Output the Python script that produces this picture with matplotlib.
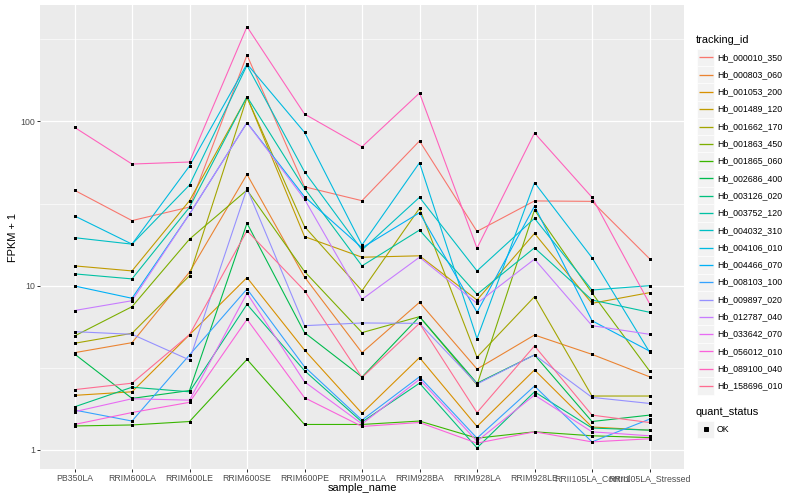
import matplotlib
matplotlib.use("Agg")
import matplotlib.pyplot as plt
from matplotlib.patches import Rectangle
from matplotlib.ticker import FixedLocator, NullFormatter

plt.rcParams['font.family'] = ['Liberation Sans', 'DejaVu Sans']

samples = ["PB350LA", "RRIM600LA", "RRIM600LE", "RRIM600SE", "RRIM600PE", "RRIM901LA",
           "RRIM928BA", "RRIM928LA", "RRIM928LE", "RRII105LA_Control", "RRII105LA_Stressed"]

tracking_ids = ["Hb_000010_350", "Hb_000803_060", "Hb_001053_200", "Hb_001489_120",
                "Hb_001662_170", "Hb_001863_450", "Hb_001865_060", "Hb_002686_400",
                "Hb_003126_020", "Hb_003752_120", "Hb_004032_310", "Hb_004106_010",
                "Hb_004466_070", "Hb_008103_100", "Hb_009897_020", "Hb_012787_040",
                "Hb_033642_070", "Hb_056012_010", "Hb_089100_040", "Hb_158696_010"]

# ggplot default hue palette, 20 levels
colors = ["#F8766D", "#EA8331", "#D89000", "#C09B00", "#A3A500", "#7CAE00", "#39B600",
          "#00BB4E", "#00BF7D", "#00C1A3", "#00BFC4", "#00BAE0", "#00B0F6", "#35A2FF",
          "#9590FF", "#C77CFF", "#E76BF3", "#FA62DB", "#FF62BC", "#FF6C91"]

# FPKM + 1, one row per tracking_id, one column per sample
fpkm_plus1 = [
    [38.1, 24.9, 30.1, 253.5, 40.0, 32.9, 76.0, 21.4, 32.8, 32.6, 14.6],
    [3.91, 4.50, 12.1, 47.6, 11.3, 3.91, 7.92, 3.11, 5.01, 3.82, 2.79],
    [2.15, 2.26, 5.03, 11.2, 4.06, 1.67, 3.65, 1.39, 3.07, 1.38, 1.32],
    [13.2, 12.3, 32.9, 140.7, 19.9, 14.9, 15.2, 8.18, 20.8, 7.81, 9.07],
    [4.46, 5.13, 11.5, 139.8, 22.9, 9.32, 29.6, 3.67, 8.57, 2.13, 2.13],
    [4.94, 7.45, 19.2, 38.2, 12.2, 5.18, 6.48, 2.49, 28.9, 9.03, 3.03],
    [1.40, 1.42, 1.49, 3.56, 1.43, 1.43, 1.50, 1.18, 1.29, 1.22, 1.19],
    [3.84, 2.06, 2.30, 24.0, 5.18, 2.78, 6.48, 2.55, 3.79, 1.49, 1.63],
    [1.83, 2.41, 2.26, 7.70, 3.04, 1.48, 2.55, 1.03, 2.26, 1.36, 1.32],
    [11.8, 11.0, 30.0, 141.3, 39.1, 13.2, 21.8, 8.86, 17.0, 8.18, 6.89],
    [19.6, 17.9, 41.0, 219.4, 49.4, 16.5, 34.5, 12.3, 25.7, 9.41, 10.0],
    [26.6, 17.9, 53.5, 223.5, 85.8, 17.7, 56.0, 4.76, 42.4, 14.8, 3.95],
    [9.96, 8.38, 27.3, 98.2, 34.8, 17.0, 27.8, 6.89, 30.5, 6.12, 4.00],
    [1.75, 1.50, 3.79, 9.55, 3.21, 1.52, 2.79, 1.18, 2.45, 1.12, 1.54],
    [5.25, 5.06, 3.53, 39.1, 5.71, 5.93, 5.90, 2.52, 3.79, 2.09, 1.92],
    [7.06, 8.10, 27.3, 98.2, 33.6, 8.26, 14.9, 7.81, 14.5, 5.71, 5.06],
    [1.71, 2.05, 2.01, 8.99, 2.60, 1.44, 2.69, 1.13, 2.16, 1.29, 1.22],
    [1.43, 1.69, 1.95, 6.24, 2.08, 1.39, 1.47, 1.10, 1.29, 1.12, 1.17],
    [92.0, 55.0, 56.6, 377.0, 110.9, 70.1, 148.8, 16.9, 85.0, 34.5, 7.79],
    [2.33, 2.55, 5.03, 21.6, 9.32, 2.76, 5.90, 1.69, 4.30, 1.63, 1.47],
]

y_ticks = [1, 10, 100]
y_tick_labels = ["1", "10", "100"]

fig = plt.figure(figsize=(800 / 72, 500 / 72), dpi=72)
ax = fig.add_axes([40 / 800, 1 - 469 / 500, 644 / 800, 464 / 500])
ax.set_facecolor("#EBEBEB")

xs = list(range(len(samples)))
for vals, c in zip(fpkm_plus1, colors):
    ax.plot(xs, vals, color=c, lw=1.1, zorder=2)
for vals in fpkm_plus1:
    ax.scatter(xs, vals, marker="s", s=9, color="black", linewidths=0, zorder=3)

ax.set_yscale("log")
ax.set_ylim(0.766, 511)
ax.set_xlim(-0.6, 10.6)
ax.set_yticks(y_ticks)
ax.set_yticklabels(y_tick_labels)
ax.yaxis.set_minor_locator(FixedLocator([10 ** 0.5, 10 ** 1.5, 10 ** 2.5]))
ax.yaxis.set_minor_formatter(NullFormatter())
ax.set_xticks(xs)
ax.set_xticklabels(samples)

ax.grid(which="major", color="white", lw=1.2)
ax.grid(which="minor", axis="y", color="white", lw=0.6)
ax.set_axisbelow(True)
for s in ax.spines.values():
    s.set_visible(False)
ax.tick_params(which="major", length=2.75, width=1, color="#333333",
               labelsize=8.8, labelcolor="#4D4D4D", pad=2.2)
ax.tick_params(which="minor", length=0)

fig.text(362 / 800, 1 - 488 / 500, "sample_name", fontsize=11, ha="center", va="center")
fig.text(13 / 800, 1 - 237 / 500, "FPKM + 1", fontsize=11, ha="center", va="center",
         rotation=90)

# legends drawn in pixel coordinates
lax = fig.add_axes([0, 0, 1, 1])
lax.set_xlim(0, 800)
lax.set_ylim(500, 0)
lax.axis("off")

key = 17.3
lax.text(696, 40, "tracking_id", fontsize=11, va="center", ha="left")
for i, (tid, c) in enumerate(zip(tracking_ids, colors)):
    yc = 57.3 + i * key
    lax.add_patch(Rectangle((697, yc - key / 2), key, key, facecolor="#F2F2F2",
                            edgecolor="white", lw=0.6, zorder=1))
    lax.plot([698.5, 713], [yc, yc], color=c, lw=1.3, zorder=3,
             solid_capstyle="butt")
    lax.text(717, yc, tid, fontsize=8.8, va="center", ha="left")

lax.text(696, 412, "quant_status", fontsize=11, va="center", ha="left")
yc = 429.3
lax.add_patch(Rectangle((697, yc - key / 2), key, key, facecolor="#F2F2F2",
                        edgecolor="white", lw=0.6, zorder=1))
lax.plot([705.6], [yc], marker="s", markersize=3.2, color="black", zorder=3)
lax.text(717, yc, "OK", fontsize=8.8, va="center", ha="left")

fig.savefig("out.png", dpi=72)
